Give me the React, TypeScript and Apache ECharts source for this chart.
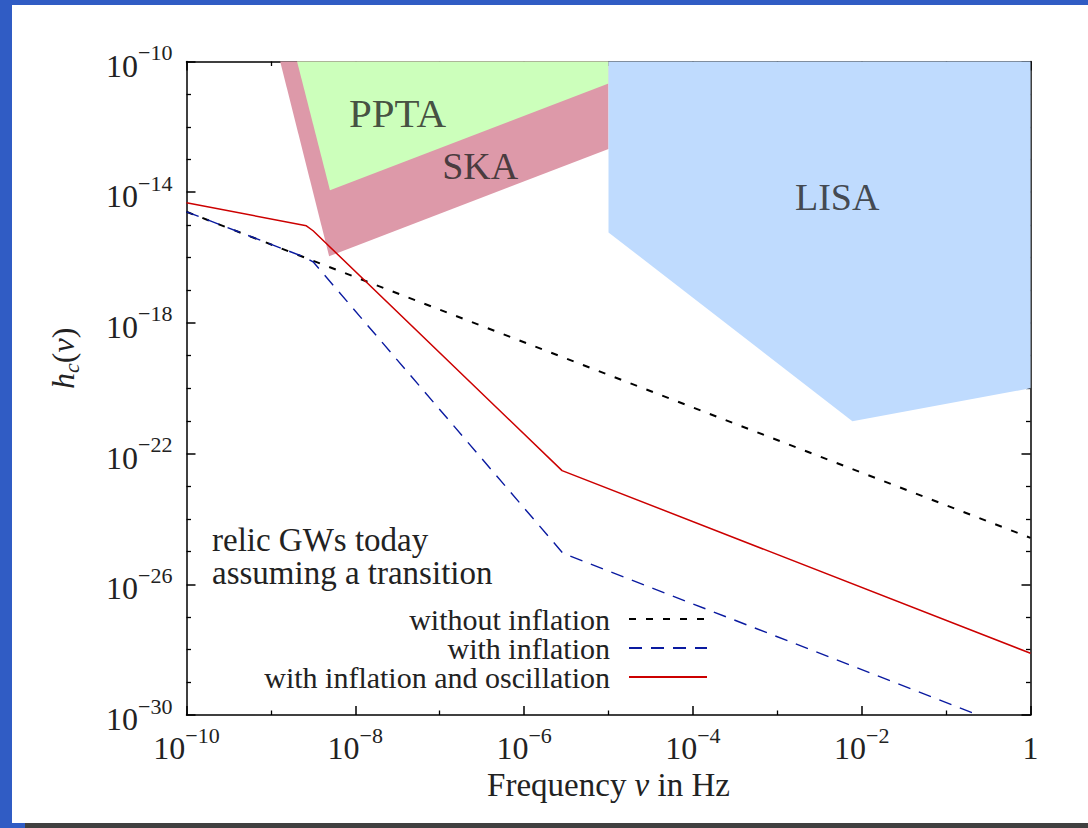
import { useEffect, useRef } from 'react';
import * as echarts from 'echarts';

const FONT = '"Liberation Serif", "Times New Roman", serif';

// All values are log10: frequency (Hz) and characteristic strain h_c
const seriesNames = ['without inflation', 'with inflation', 'with inflation and oscillation'];

const freqWithout = [-10, 0];
const hcWithout = [-14.6, -24.58];

const freqInfl = [-10, -8.6, -8.5, -5.54, -0.62];
const hcInfl = [-14.6, -15.99, -16.13, -25.05, -30];

const freqOsc = [-10, -8.58, -8.5, -5.55, 0];
const hcOsc = [-14.32, -15.03, -15.18, -22.52, -28.11];

// sensitivity regions (log10 frequency, log10 h_c)
const skaFreq = [-8.89, -8.31, -5, -5];
const skaHc = [-10, -15.96, -12.68, -10];
const pptaFreq = [-8.69, -8.3, -5, -5];
const pptaHc = [-10, -13.94, -10.67, -10];
const lisaFreq = [-5, -5, -2.11, 0, 0];
const lisaHc = [-10, -15.23, -21.01, -20.0, -10];

const regionNames = ['PPTA', 'SKA', 'LISA'];
const regionLabelFreq = [-7.5, -6.52, -2.29];
const regionLabelHc = [-11.58, -13.2, -14.14];
const regionLabelSize = [41, 38, 38];

const xTicks = [-10, -8, -6, -4, -2, 0];
const yTicks = [-30, -26, -22, -18, -14, -10];

const zip = (a: number[], b: number[]) => a.map((v, i) => [v, b[i]]);

const supRich = {
  b: { fontFamily: FONT, fontSize: 32, color: '#222', lineHeight: 40, verticalAlign: 'bottom' },
  s: { fontFamily: FONT, fontSize: 22, color: '#222', lineHeight: 22, verticalAlign: 'top' },
};

const powLabel = (v: number) => {
  if (v === 0) return '{b|1}';
  return `{b|10}{s|\u2212${Math.abs(v)}}`;
};

const polySeries = (name: string, xs: number[], ys: number[], color: string, z: number) => ({
  type: 'custom',
  name,
  coordinateSystem: 'cartesian2d',
  silent: true,
  z,
  data: [[xs[0], ys[0]]],
  renderItem: (_params: any, api: any) => ({
    type: 'polygon',
    shape: { points: zip(xs, ys).map((p) => api.coord(p)) },
    style: { fill: color, stroke: null },
  }),
});

export default function App() {
  const ref = useRef<HTMLDivElement>(null);
  useEffect(() => {
    if (!ref.current) return;
    const chart = echarts.init(ref.current, undefined, { renderer: 'svg' });
    const axisCommon = {
      type: 'value',
      splitLine: { show: false },
      minorSplitLine: { show: false },
      axisLine: { show: true, onZero: false, lineStyle: { color: '#000', width: 1.5 } },
      axisTick: { show: true, inside: true, length: 9, lineStyle: { color: '#000', width: 1.5 } },
    };
    chart.setOption({
      animation: false,
      backgroundColor: '#fff',
      grid: { left: 186.5, top: 61.5, right: 57.5, bottom: 113, containLabel: false },
      xAxis: [
        {
          ...axisCommon,
          min: xTicks[0],
          max: xTicks[xTicks.length - 1],
          interval: 2,
          position: 'bottom',
          minorTick: { show: true, splitNumber: 2, length: 4.5, lineStyle: { color: '#000', width: 1.3 } },
          axisLabel: { show: true, margin: 9, formatter: powLabel, rich: supRich },
          name: '{a|Frequency }{i|\u03bd}{a| in Hz}',
          nameLocation: 'middle',
          nameGap: 50,
          nameTextStyle: {
            rich: {
              a: { fontFamily: FONT, fontSize: 33, color: '#222' },
              i: { fontFamily: FONT, fontSize: 33, color: '#222', fontStyle: 'italic' },
            },
          },
        },
        {
          ...axisCommon,
          min: xTicks[0],
          max: xTicks[xTicks.length - 1],
          interval: 2,
          position: 'top',
          minorTick: { show: true, splitNumber: 2, length: 4.5, lineStyle: { color: '#000', width: 1.3 } },
          axisLabel: { show: false },
        },
      ],
      yAxis: [
        {
          ...axisCommon,
          min: yTicks[0],
          max: yTicks[yTicks.length - 1],
          interval: 4,
          position: 'left',
          minorTick: { show: true, splitNumber: 4, length: 4.5, lineStyle: { color: '#000', width: 1.3 } },
          axisLabel: { show: true, margin: 14, formatter: powLabel, rich: supRich },
          name: '{i|h}{c|c}{a|(}{i|\u03bd}{a|)}',
          nameLocation: 'middle',
          nameGap: 104,
          nameRotate: 90,
          nameTextStyle: {
            padding: [0, 0, 0, 60],
            rich: {
              a: { fontFamily: FONT, fontSize: 32, color: '#222', lineHeight: 36, verticalAlign: 'top' },
              i: { fontFamily: FONT, fontSize: 32, color: '#222', fontStyle: 'italic', lineHeight: 36, verticalAlign: 'top' },
              c: { fontFamily: FONT, fontSize: 22, color: '#222', fontStyle: 'italic', lineHeight: 22, verticalAlign: 'bottom' },
            },
          },
        },
        {
          ...axisCommon,
          min: yTicks[0],
          max: yTicks[yTicks.length - 1],
          interval: 4,
          position: 'right',
          minorTick: { show: true, splitNumber: 4, length: 4.5, lineStyle: { color: '#000', width: 1.3 } },
          axisLabel: { show: false },
        },
      ],
      legend: {
        data: seriesNames,
        orient: 'vertical',
        align: 'right',
        right: 380,
        top: 604,
        padding: 0,
        itemGap: -1,
        itemWidth: 78,
        itemHeight: 14,
        selectedMode: false,
        itemStyle: { opacity: 0 },
        textStyle: { fontFamily: FONT, fontSize: 30, color: '#222', lineHeight: 29, padding: [0, 14, 0, 0] },
      },
      graphic: [
        { type: 'rect', shape: { x: 0, y: 0, width: 12, height: 823 }, style: { fill: '#305cc4' }, silent: true },
        { type: 'rect', shape: { x: 0, y: 0, width: 1088, height: 5 }, style: { fill: '#305cc4' }, silent: true },
        { type: 'rect', shape: { x: 0, y: 823, width: 1088, height: 5 }, style: { fill: '#404040' }, silent: true },
        { type: 'rect', shape: { x: 0, y: 823, width: 25, height: 5 }, style: { fill: '#305cc4' }, silent: true },
        {
          type: 'text',
          left: 212,
          top: 523,
          silent: true,
          style: {
            text: 'relic GWs today\nassuming a transition',
            fontFamily: FONT,
            fontSize: 33,
            lineHeight: 33,
            fill: '#222',
          },
        },
      ],
      series: [
        polySeries('SKA region', skaFreq, skaHc, '#dd99a9', 1),
        polySeries('PPTA region', pptaFreq, pptaHc, '#ccffbb', 2),
        polySeries('LISA region', lisaFreq, lisaHc, '#bfdbfe', 2),
        {
          type: 'scatter',
          name: 'region labels',
          silent: true,
          symbolSize: 1,
          itemStyle: { color: 'rgba(0,0,0,0)' },
          z: 5,
          data: regionNames.map((n, i) => ({
            value: [regionLabelFreq[i], regionLabelHc[i], n],
            label: { fontSize: regionLabelSize[i] },
          })),
          label: {
            show: true,
            position: 'inside',
            formatter: (p: any) => p.value[2],
            fontFamily: FONT,
            fontSize: 38,
            color: '#222',
          },
        },
        {
          type: 'line',
          name: seriesNames[0],
          data: zip(freqWithout, hcWithout),
          symbol: 'none',
          z: 4,
          itemStyle: { color: '#000' },
          lineStyle: { color: '#000', width: 2, type: [7, 10] },
        },
        {
          type: 'line',
          name: seriesNames[1],
          data: zip(freqInfl, hcInfl),
          symbol: 'none',
          z: 4,
          itemStyle: { color: '#0a1aa0' },
          lineStyle: { color: '#0a1aa0', width: 1.4, type: [13, 9] },
        },
        {
          type: 'line',
          name: seriesNames[2],
          data: zip(freqOsc, hcOsc),
          symbol: 'none',
          z: 4,
          itemStyle: { color: '#cc0000' },
          lineStyle: { color: '#cc0000', width: 1.5 },
        },
      ],
    });
    return () => chart.dispose();
  }, []);
  return (
    <div
      ref={ref}
      style={{ position: 'fixed', left: 0, top: 0, width: 1088, height: 828, background: '#fff' }}
    />
  );
}
